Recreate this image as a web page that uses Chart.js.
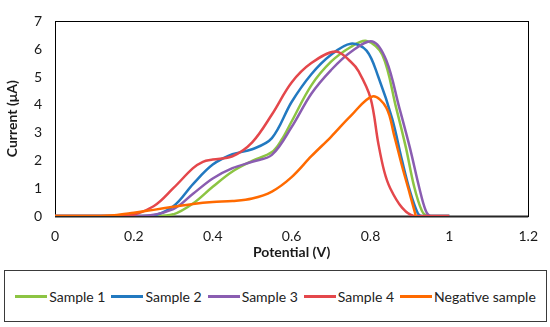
<!DOCTYPE html>
<html>
<head>
<meta charset="utf-8">
<script src="https://cdn.jsdelivr.net/npm/chart.js@4"></script>
<style>
  html, body { margin: 0; padding: 0; background: #fff; }
  #wrap { position: relative; width: 550px; height: 327px; font-family: Lato, sans-serif; }
  #chartBox { position: absolute; left: 0; top: 0; width: 550px; height: 262px; }
  #legend {
    position: absolute; left: 4px; top: 270px; width: 541px; height: 50px;
    border: 1.5px solid #3a3a3a; display: flex; align-items: center; justify-content: center;
  }
  .item { display: flex; align-items: center; font-size: 14px; color: #222; margin: 0 3px; white-space: nowrap; }
  .swatch { width: 32px; height: 3px; margin-right: 2px; }
</style>
</head>
<body>
<div id="wrap">
  <div id="chartBox"><canvas id="dpvChart"></canvas></div>
  <div id="legend"></div>
</div>
<script>
// Series names and colours
const seriesNames = ['Sample 1', 'Sample 2', 'Sample 3', 'Sample 4', 'Negative sample'];
const seriesColors = ['#8CC443', '#2279C0', '#8A5DB1', '#E4474B', '#FF6A00'];

// Axis tick labels
const xTickLabels = ['0', '0.2', '0.4', '0.6', '0.8', '1', '1.2'];
const yTickLabels = ['0', '1', '2', '3', '4', '5', '6', '7'];

// Potential (V) and current (uA)
const sample1V = [0, 0.25, 0.3, 0.35, 0.4, 0.45, 0.5, 0.55, 0.575, 0.6, 0.65, 0.7, 0.75, 0.79, 0.83, 0.865, 0.89, 0.91, 0.93, 0.945, 1.0];
const sample1I = [0, 0, 0.06, 0.45, 1.05, 1.6, 1.98, 2.3, 2.75, 3.4, 4.7, 5.55, 6.08, 6.3, 5.8, 3.9, 2.45, 1.1, 0.2, 0, 0];

const sample2V = [0, 0.24, 0.3, 0.35, 0.4, 0.45, 0.5, 0.55, 0.6, 0.65, 0.7, 0.75, 0.79, 0.82, 0.855, 0.88, 0.9, 0.92, 0.93, 1.0];
const sample2I = [0, 0, 0.35, 1.15, 1.85, 2.22, 2.4, 2.8, 4.1, 5.1, 5.8, 6.2, 5.95, 5.0, 3.5, 2.0, 0.9, 0.1, 0, 0];

const sample3V = [0, 0.22, 0.3, 0.35, 0.4, 0.45, 0.5, 0.55, 0.6, 0.65, 0.7, 0.75, 0.805, 0.84, 0.873, 0.9, 0.924, 0.94, 0.952, 1.0];
const sample3I = [0, 0, 0.25, 0.8, 1.35, 1.72, 1.95, 2.2, 3.2, 4.4, 5.25, 5.9, 6.28, 5.6, 3.9, 2.45, 1.0, 0.2, 0, 0];

const sample4V = [0, 0.18, 0.25, 0.3, 0.35, 0.375, 0.4, 0.45, 0.5, 0.55, 0.6, 0.65, 0.712, 0.75, 0.77, 0.8, 0.82, 0.835, 0.85, 0.88, 0.91, 1.0];
const sample4I = [0, 0, 0.35, 1.0, 1.72, 1.95, 2.03, 2.15, 2.65, 3.65, 4.8, 5.5, 5.92, 5.55, 5.2, 4.25, 2.6, 1.6, 1.0, 0.3, 0, 0];

const negativeV = [0, 0.1, 0.15, 0.2, 0.25, 0.3, 0.35, 0.4, 0.45, 0.5, 0.55, 0.6, 0.65, 0.7, 0.75, 0.805, 0.84, 0.86, 0.88, 0.9, 0.915];
const negativeI = [0, 0, 0.03, 0.12, 0.22, 0.33, 0.43, 0.5, 0.54, 0.63, 0.88, 1.4, 2.15, 2.85, 3.6, 4.3, 3.9, 2.9, 1.8, 0.78, 0];

const seriesV = [sample1V, sample2V, sample3V, sample4V, negativeV];
const seriesI = [sample1I, sample2I, sample3I, sample4I, negativeI];

const baseFont = { family: 'Lato, sans-serif', size: 14 };

// Frame around the plot area, drawn under the lines
const plotFrame = {
  id: 'plotFrame',
  beforeDatasetsDraw(chart) {
    const { ctx, chartArea: a } = chart;
    ctx.save();
    ctx.strokeStyle = '#000';
    ctx.lineWidth = 1;
    ctx.strokeRect(Math.round(a.left) + 0.5, Math.round(a.top) + 0.5,
      Math.round(a.right - a.left), Math.round(a.bottom - a.top));
    ctx.lineWidth = 2;
    ctx.strokeStyle = '#262626';
    ctx.beginPath();
    ctx.moveTo(a.left, Math.round(a.bottom) + 0.5);
    ctx.lineTo(a.right, Math.round(a.bottom) + 0.5);
    ctx.stroke();
    ctx.restore();
  }
};

const datasets = seriesNames.map((name, i) => ({
  label: name,
  data: seriesV[i].map((v, k) => ({ x: v, y: seriesI[i][k] })),
  borderColor: seriesColors[i],
  backgroundColor: seriesColors[i],
  borderWidth: 2.5,
  pointRadius: 0,
  showLine: true,
  tension: 0.35,
  order: seriesNames.length - i   // later series on top, as in the source
}));

const chart = new Chart(document.getElementById('dpvChart'), {
  type: 'scatter',
  data: { datasets },
  options: {
    responsive: true,
    maintainAspectRatio: false,
    animation: false,
    layout: { padding: { left: 4, right: 21, top: 9, bottom: 0 } },
    plugins: {
      legend: { display: false },
      tooltip: { enabled: false }
    },
    scales: {
      x: {
        type: 'linear',
        min: 0,
        max: 1.2,
        afterFit: s => { s.height = 46; },
        grid: { display: false, drawTicks: false },
        border: { display: false },
        ticks: {
          stepSize: 0.2,
          padding: 12,
          color: '#1a1a1a',
          font: baseFont,
          callback: (v, idx) => xTickLabels[idx]
        },
        title: {
          display: true,
          text: 'Potential (V)',
          color: '#1a1a1a',
          font: { ...baseFont, weight: 'bold' },
          padding: { top: 0, bottom: 1 }
        }
      },
      y: {
        min: 0,
        max: 7,
        afterFit: s => { s.width = 51; },
        grid: { display: false, drawTicks: false },
        border: { display: false },
        ticks: {
          stepSize: 1,
          padding: 13,
          color: '#1a1a1a',
          font: baseFont,
          callback: (v, idx) => yTickLabels[idx]
        },
        title: {
          display: true,
          text: 'Current (μA)',
          color: '#1a1a1a',
          font: { ...baseFont, weight: 'bold' },
          padding: { top: 0, bottom: 0 }
        }
      }
    }
  },
  plugins: [plotFrame]
});

// Legend below the chart, built from the chart's datasets in series order
const legendEl = document.getElementById('legend');
chart.data.datasets.forEach(ds => {
  const item = document.createElement('div');
  item.className = 'item';
  const sw = document.createElement('span');
  sw.className = 'swatch';
  sw.style.background = ds.borderColor;
  const txt = document.createElement('span');
  txt.textContent = ds.label;
  item.appendChild(sw);
  item.appendChild(txt);
  legendEl.appendChild(item);
});
</script>
</body>
</html>
